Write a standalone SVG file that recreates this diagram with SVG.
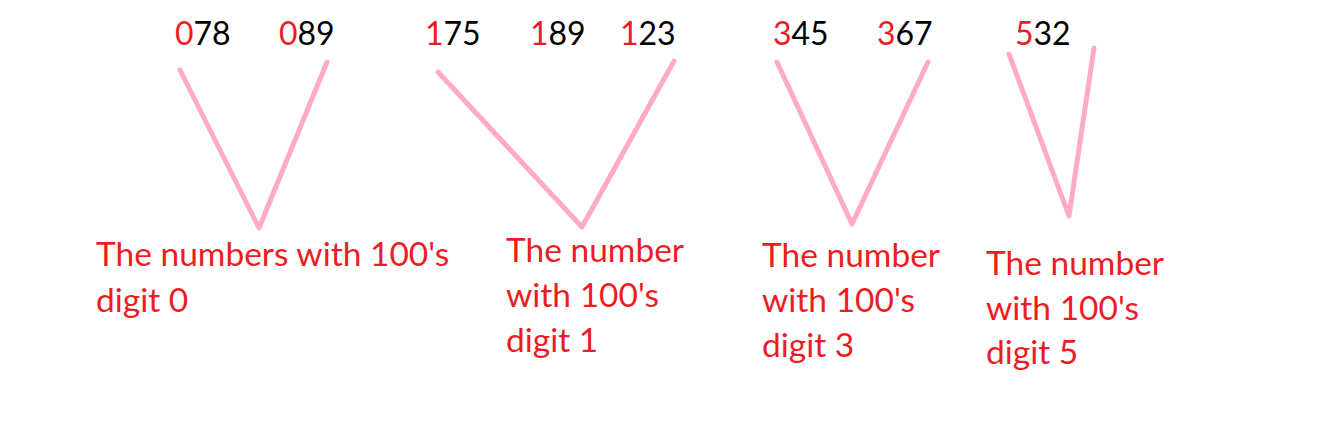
<svg xmlns="http://www.w3.org/2000/svg" width="1327" height="424" viewBox="0 0 1327 424">
<style>
.num{font-family:Lato,"Liberation Sans",sans-serif;font-size:32px;fill:#000}
.r{fill:#ed1c24}
.lbl{font-family:Lato,"Liberation Sans",sans-serif;font-size:33.5px;fill:#ed1c24}
.v{fill:none;stroke:#ffaac8;stroke-width:5;stroke-linecap:round;stroke-linejoin:round}
</style>
<rect width="1327" height="424" fill="#fff"/>
<g id="numbers">
<text class="num" x="175" y="45"><tspan class="r">0</tspan>78</text>
<text class="num" x="279" y="45"><tspan class="r">0</tspan>89</text>
<text class="num" x="425" y="45"><tspan class="r">1</tspan>75</text>
<text class="num" x="530" y="45"><tspan class="r">1</tspan>89</text>
<text class="num" x="620" y="45"><tspan class="r">1</tspan>23</text>
<text class="num" x="773" y="45"><tspan class="r">3</tspan>45</text>
<text class="num" x="877" y="45"><tspan class="r">3</tspan>67</text>
<text class="num" x="1015" y="45"><tspan class="r">5</tspan>32</text>
</g>
<g id="connectors">
<polyline class="v" points="180,70 259,228 327,62"/>
<polyline class="v" points="438,72 582,227 674,61"/>
<polyline class="v" points="777,62 852,224 928,62"/>
<polyline class="v" points="1009,54 1069,216 1094,48"/>
</g>
<g id="label0">
<text class="lbl" x="96" y="266">The numbers with 100's</text>
<text class="lbl" x="96" y="312">digit 0</text>
</g>
<g id="label1">
<text class="lbl" x="506" y="262">The number</text>
<text class="lbl" x="506" y="307">with 100's</text>
<text class="lbl" x="506" y="352">digit 1</text>
</g>
<g id="label3">
<text class="lbl" x="762" y="267">The number</text>
<text class="lbl" x="762" y="312">with 100's</text>
<text class="lbl" x="762" y="357">digit 3</text>
</g>
<g id="label5">
<text class="lbl" x="986" y="275">The number</text>
<text class="lbl" x="986" y="320">with 100's</text>
<text class="lbl" x="986" y="364">digit 5</text>
</g>
</svg>
